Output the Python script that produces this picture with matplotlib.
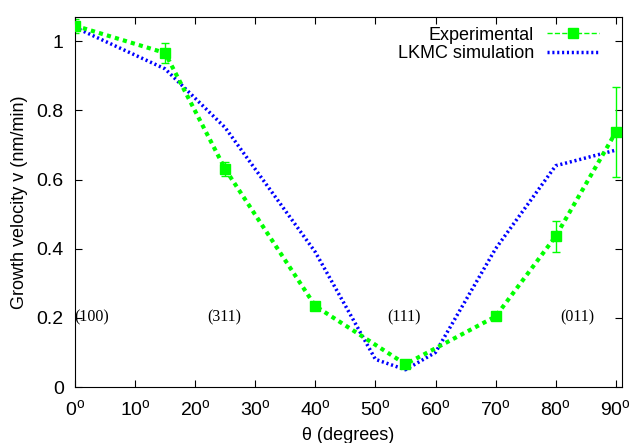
import matplotlib
matplotlib.use("Agg")
import matplotlib.pyplot as plt
from matplotlib.lines import Line2D

plt.rcParams["font.family"] = ["Liberation Sans", "DejaVu Sans"]
plt.rcParams["mathtext.fontset"] = "custom"
plt.rcParams["mathtext.rm"] = "Liberation Sans"

# datos
theta_exp = [0, 15, 25, 40, 55, 70, 80, 90]
v_exp = [1.045, 0.966, 0.630, 0.234, 0.066, 0.204, 0.436, 0.737]
err_exp = [0.02, 0.03, 0.02, 0.01, 0.01, 0.01, 0.045, 0.13]

theta_sim = [0, 15, 25, 40, 50, 55, 60, 70, 80, 90]
v_sim = [1.04, 0.92, 0.75, 0.39, 0.08, 0.05, 0.10, 0.40, 0.64, 0.685]

planos = ["(100)", "(311)", "(111)", "(011)"]
planos_x = [2.7, 24.9, 54.8, 83.6]
planos_y = [0.2, 0.2, 0.2, 0.2]

xticks = [0, 10, 20, 30, 40, 50, 60, 70, 80, 90]
yticks = [0, 0.2, 0.4, 0.6, 0.8, 1]

verde = "#00ff00"
azul = "#0000ff"

fig = plt.figure(figsize=(6.3, 4.43), dpi=100)
ax = fig.add_axes([0.119, 0.1264, 0.868, 0.8352])

ax.errorbar(theta_exp, v_exp, yerr=err_exp, fmt="none", ecolor=verde,
            elinewidth=1, capsize=3, ls="--", zorder=2)
ax.plot(theta_exp, v_exp, color=verde, lw=3, ls=(0, (1, 1)),
        marker="s", ms=7, zorder=3)
ax.plot(theta_sim, v_sim, color=azul, lw=2.5, ls=(0, (0.6, 0.8)), zorder=2)

for txt, x, y in zip(planos, planos_x, planos_y):
    ax.text(x, y, txt, ha="center", va="center", fontsize=11.5,
            family=["Liberation Serif", "DejaVu Serif"])

ax.set_xlim(0, 91)
ax.set_ylim(0, 1.07)
ax.set_xticks(xticks)
ax.set_xticklabels([f"{t}$^{{\\mathrm{{o}}}}$" for t in xticks])
ax.set_yticks(yticks)
ax.set_yticklabels(["0", "0.2", "0.4", "0.6", "0.8", "1"])
ax.tick_params(direction="in", top=True, right=True, labelsize=14, length=5)
ax.tick_params(axis="x", pad=9)
ax.tick_params(axis="y", pad=8)
ax.set_xlabel("θ (degrees)", fontsize=13, labelpad=5)
ax.set_ylabel("Growth velocity v (nm/min)", fontsize=13, labelpad=6)

handles = [
    Line2D([], [], color=verde, lw=1, ls="--", marker="s", ms=7),
    Line2D([], [], color=azul, lw=2.5, ls=(0, (0.6, 0.8))),
]
ax.legend(handles, ["Experimental", "LKMC simulation"], loc="upper right",
          bbox_to_anchor=(0.962, 0.979), frameon=False, fontsize=13,
          markerfirst=False, handlelength=2.9, borderaxespad=0,
          labelspacing=0.1, handletextpad=0.7, borderpad=0.1)

fig.savefig("out.png", dpi=100)
